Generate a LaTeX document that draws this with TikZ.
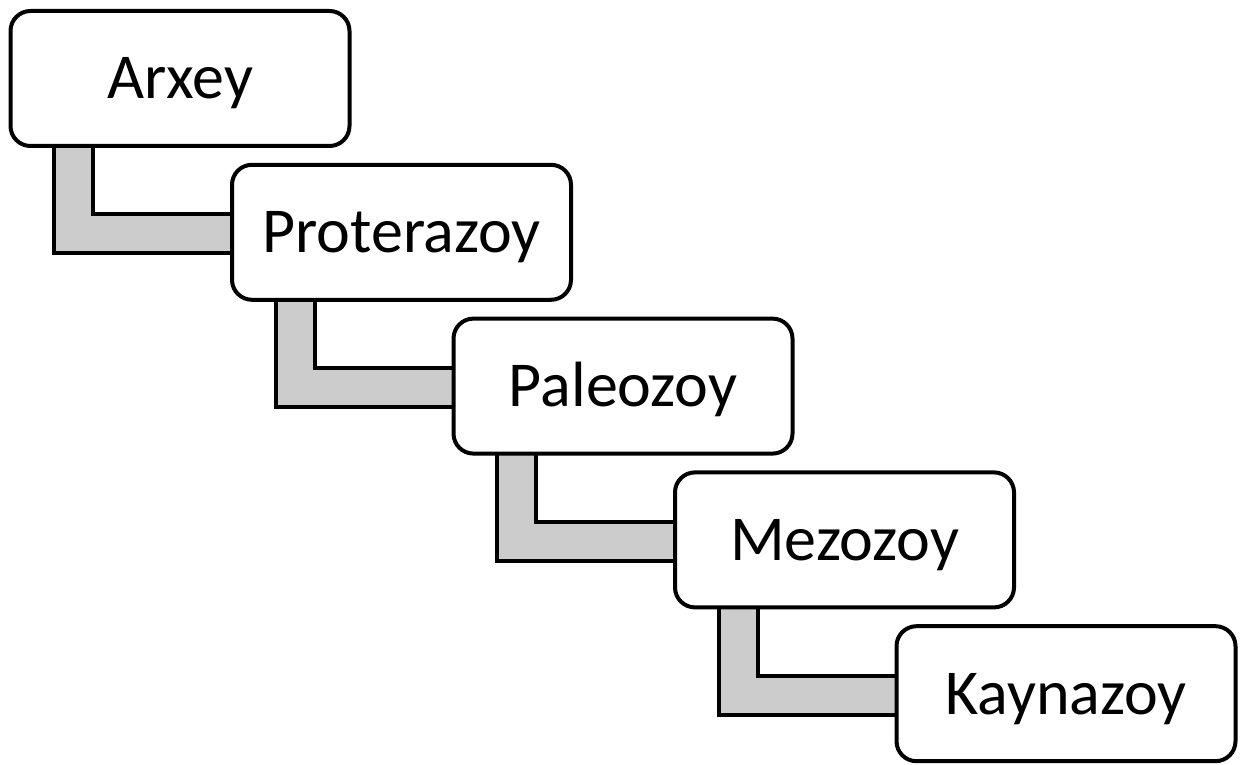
\documentclass[tikz,border=0pt]{standalone}
\usepackage{fontspec}
\setmainfont{Carlito}
\usetikzlibrary{calc,backgrounds}
\begin{document}
\begin{tikzpicture}[x=1pt,y=-1pt,
  era/.style={draw=black, line width=4pt, rounded corners=20pt, fill=white,
    minimum width=339pt, minimum height=135pt, inner sep=0pt,
    font=\fontsize{64}{68}\selectfont, text height=41pt, text depth=0pt},
  band/.style={draw=black, line width=4pt, fill=black!20, line join=miter}]
\useasboundingbox (0,0) rectangle (1240,765);
\node[era] (a) at (180,78.5) {Arxey};
\node[era] (b) at (401.5,232.3) {Proterazoy};
\node[era] (c) at (623,386.1) {Paleozoy};
\node[era] (d) at (844.5,539.9) {Mezozoy};
\node[era] (e) at (1066,693.7) {Kaynazoy};
\begin{scope}[on background layer]
\foreach \p/\q in {a/b,b/c,c/d,d/e}{
  \draw[band] ($(\p.south west)+(45.5,-20)$) |- ($(\q.west)+(20,21)$)
     -- ($(\q.west)+(20,-18)$) -| ($(\p.south west)+(84.5,-20)$) -- cycle;
}
\end{scope}
\end{tikzpicture}
\end{document}
